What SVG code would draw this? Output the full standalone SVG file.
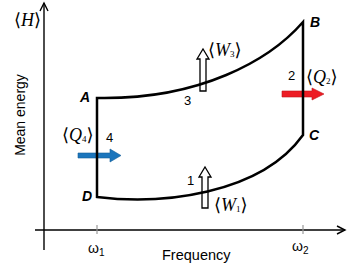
<svg xmlns="http://www.w3.org/2000/svg" width="353" height="265" viewBox="0 0 353 265">
<style>
.ax{stroke:#000;stroke-width:1.4;fill:none}
.tick{stroke:#999;stroke-width:1.2}
.cyc{stroke:#000;stroke-width:2.5;fill:none;stroke-linejoin:miter}
.sans{font-family:"Liberation Sans",Arial,sans-serif;fill:#000}
.pt{font-family:"Liberation Sans",Arial,sans-serif;font-weight:bold;font-style:italic;font-size:14px}
.num{font-family:"Liberation Sans",Arial,sans-serif;font-size:13px}
.m{font-family:"Liberation Serif","DejaVu Serif",serif;font-size:18px}
.mi{font-style:italic}
.sub{font-size:9px}
.work{fill:#fff;stroke:#000;stroke-width:1.3}
</style>
<g id="axes">
<line class="ax" x1="44" y1="250" x2="44" y2="3"/>
<polyline class="ax" points="40,11 44,3 48,11"/>
<line class="ax" x1="35" y1="230" x2="345" y2="230"/>
<polyline class="ax" points="337,226 345,230 337,234"/>
<line class="tick" x1="97" y1="225" x2="97" y2="234"/>
<line class="tick" x1="303" y1="225" x2="303" y2="234"/>
<text class="m" x="14" y="26">⟨<tspan class="mi">H</tspan>⟩</text>
<text class="sans" font-size="14" transform="translate(25,115) rotate(-90)" text-anchor="middle">Mean energy</text>
<text class="sans" font-size="14.5" x="162" y="260">Frequency</text>
<text class="sans" font-size="14" x="88" y="253">ω<tspan font-size="10" dy="3">1</tspan></text>
<text class="sans" font-size="14" x="292" y="251">ω<tspan font-size="10" dy="3">2</tspan></text>
</g>
<g id="arrows">
<g id="Q2"><path d="M282,91 H312 V88 L324,94 L312,100 V97 H282 Z" fill="#ed1c24" stroke="#c0161c" stroke-width="0.6"/></g>
<g id="Q4"><path d="M78,153 H110 V149 L121,155.5 L110,162 V158 H78 Z" fill="#1b75bc" stroke="#155f99" stroke-width="0.6"/></g>
<g id="W3"><path class="work" d="M200,91 V59 H197 L203,49 L209,59 H206 V91 Z"/></g>
<g id="W1"><path class="work" d="M202,208 V177 H199 L205,167 L211,177 H208 V208 Z"/></g>
</g>
<g id="cycle">
<path class="cyc" d="M97,98 C200,100 270,60 303,22 L303,135 C260,195 160,205 97,197 Z"/>
</g>
<g id="labels">
<text class="pt" x="80" y="102">A</text>
<text class="pt" x="310" y="27">B</text>
<text class="pt" x="309" y="140">C</text>
<text class="pt" x="82" y="201">D</text>
<text class="num" x="187" y="185">1</text>
<text class="num" x="288" y="80">2</text>
<text class="num" x="184" y="105">3</text>
<text class="num" x="106" y="142">4</text>
<text class="m" x="306" y="83">⟨<tspan class="mi">Q</tspan><tspan class="sub" dy="1">2</tspan><tspan dy="-1">⟩</tspan></text>
<text class="m" x="62" y="141">⟨<tspan class="mi">Q</tspan><tspan class="sub" dy="1">4</tspan><tspan dy="-1">⟩</tspan></text>
<text class="m" x="208" y="56">⟨<tspan class="mi">W</tspan><tspan class="sub" dy="1">3</tspan><tspan dy="-1">⟩</tspan></text>
<text class="m" x="214" y="211">⟨<tspan class="mi">W</tspan><tspan class="sub" dy="1">1</tspan><tspan dy="-1">⟩</tspan></text>
</g>
</svg>
